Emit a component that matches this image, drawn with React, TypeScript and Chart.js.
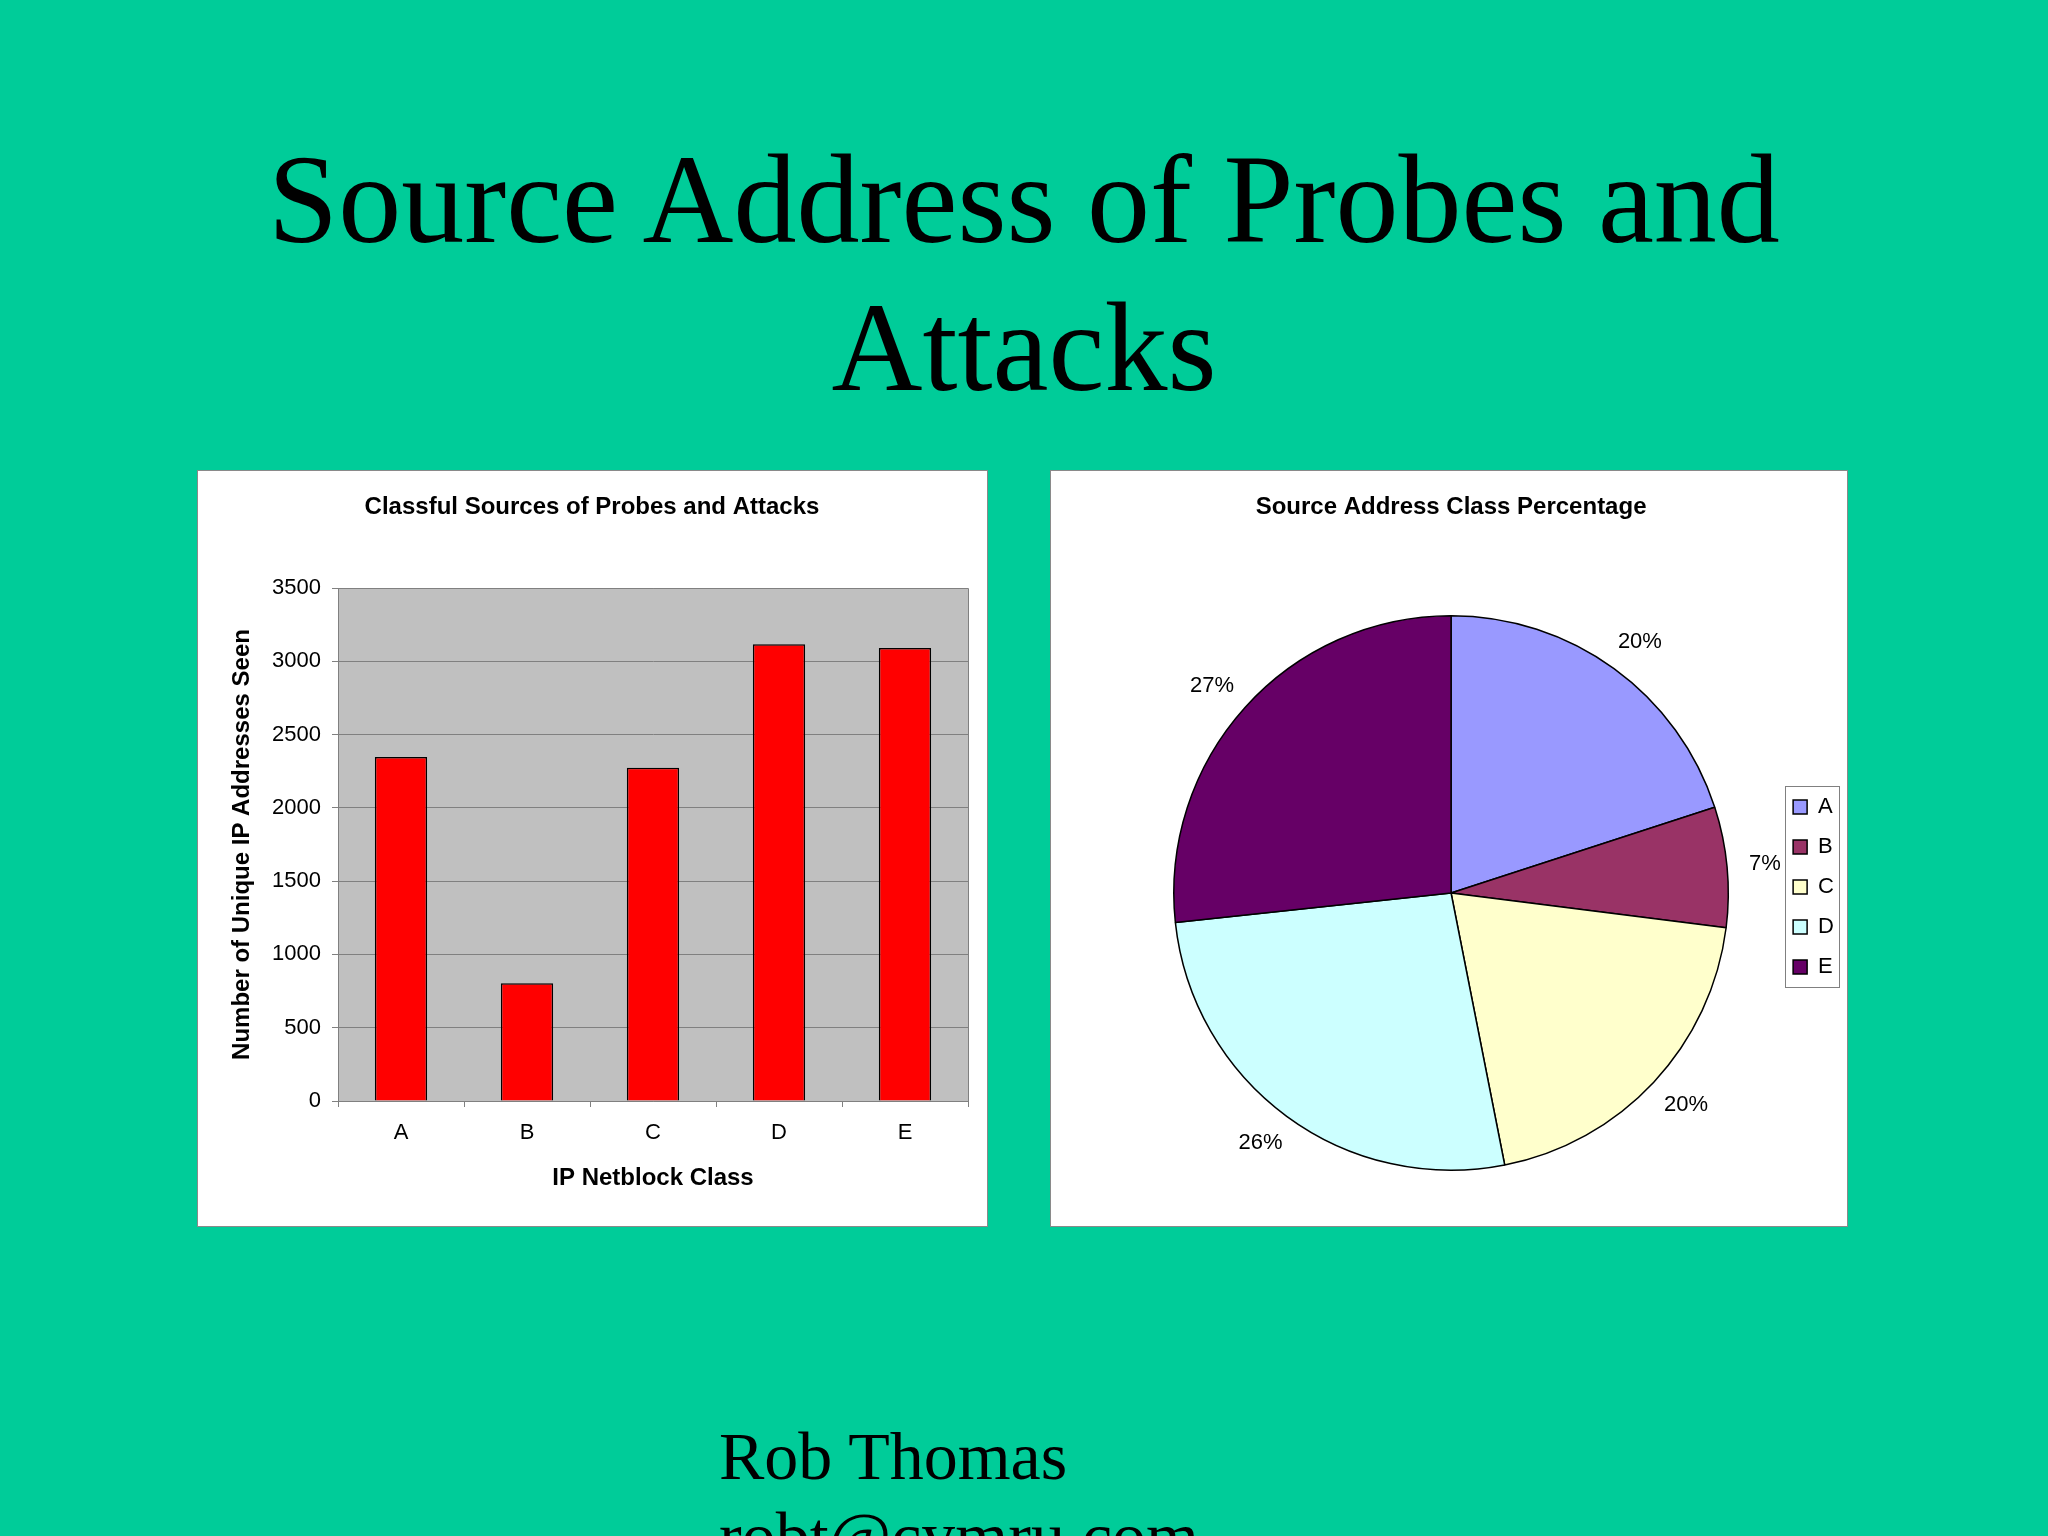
import React, { useEffect, useRef } from "react";
import { Chart, registerables } from "chart.js";

Chart.register(...registerables);

// ---------- data ----------
const slideTitleLines = ["Source Address of Probes and", "Attacks"];
const authorLines = ["Rob Thomas", "robt@cymru.com"];

const barTitle = "Classful Sources of Probes and Attacks";
const barXTitle = "IP Netblock Class";
const barYTitle = "Number of Unique IP Addresses Seen";
const barCategories = ["A", "B", "C", "D", "E"];
const barValues = [2347, 803, 2273, 3117, 3090];
const barAxisMin = 0;
const barAxisMax = 3500;
const barAxisStep = 500;

const pieTitle = "Source Address Class Percentage";
const pieLabels = ["A", "B", "C", "D", "E"];
const pieValues = [20.0, 7.0, 19.9, 26.4, 26.7];
const pieColors = ["#9999FF", "#993366", "#FFFFCC", "#CCFFFF", "#660066"];

// ---------- styles ----------
const SANS = '"Liberation Sans", Arial, sans-serif';
const SERIF = '"Liberation Serif", "Times New Roman", serif';
const PAGE_BG = "#00CC99";
const PIE_LABEL_SIZE = 22;

const plotBackground = {
  id: "plotBackground",
  beforeDraw(chart: any) {
    const { ctx, chartArea } = chart;
    ctx.save();
    ctx.fillStyle = "#C0C0C0";
    ctx.fillRect(chartArea.left, chartArea.top, chartArea.right - chartArea.left, chartArea.bottom - chartArea.top);
    ctx.restore();
  },
  afterDraw(chart: any) {
    const { ctx, chartArea } = chart;
    ctx.save();
    ctx.strokeStyle = "#808080";
    ctx.lineWidth = 1;
    ctx.beginPath();
    ctx.moveTo(Math.round(chartArea.left) + 0.5, Math.round(chartArea.top) + 0.5);
    ctx.lineTo(Math.round(chartArea.right) + 0.5, Math.round(chartArea.top) + 0.5);
    ctx.lineTo(Math.round(chartArea.right) + 0.5, Math.round(chartArea.bottom) + 0.5);
    ctx.stroke();
    ctx.restore();
  },
};

const pieOutsideLabels = {
  id: "pieOutsideLabels",
  afterDatasetsDraw(chart: any) {
    const { ctx } = chart;
    const meta = chart.getDatasetMeta(0);
    const values: number[] = chart.data.datasets[0].data;
    const total = values.reduce((a, b) => a + b, 0);
    ctx.save();
    ctx.font = `${PIE_LABEL_SIZE}px ${SANS}`;
    ctx.fillStyle = "#000";
    ctx.textAlign = "center";
    ctx.textBaseline = "middle";
    meta.data.forEach((arc: any, i: number) => {
      const p = arc.getProps(["x", "y", "startAngle", "endAngle", "outerRadius"], true);
      const mid = (p.startAngle + p.endAngle) / 2;
      const text = Math.round((values[i] / total) * 100) + "%";
      const w = ctx.measureText(text).width;
      const h = PIE_LABEL_SIZE;
      const dx = Math.cos(mid);
      const dy = Math.sin(mid);
      const d = p.outerRadius + 22;
      const tx = p.x + dx * d + (dx * w) / 2;
      const ty = p.y + dy * d + (dy * h) / 2;
      ctx.fillText(text, tx, ty);
    });
    ctx.restore();
  },
};

const legendFrame = {
  id: "legendFrame",
  afterDraw(chart: any) {
    const legend = chart.legend;
    if (!legend || !legend.legendHitBoxes || !legend.legendHitBoxes.length) return;
    const hb = legend.legendHitBoxes;
    const left = Math.min(...hb.map((h: any) => h.left)) - 8;
    const right = Math.max(...hb.map((h: any) => h.left + h.width)) + 5;
    const top = hb[0].top - 10;
    const last = hb[hb.length - 1];
    const bottom = last.top + last.height + 9;
    const { ctx } = chart;
    ctx.save();
    ctx.strokeStyle = "#808080";
    ctx.lineWidth = 1;
    ctx.strokeRect(Math.round(left) + 0.5, Math.round(top) + 0.5, Math.round(right - left), Math.round(bottom - top));
    ctx.restore();
  },
};

function BarChart() {
  const ref = useRef<HTMLCanvasElement>(null);
  useEffect(() => {
    if (!ref.current) return;
    const chart = new Chart(ref.current, {
      type: "bar",
      data: {
        labels: barCategories,
        datasets: [
          {
            data: barValues,
            backgroundColor: "#FF0000",
            borderColor: "#000000",
            borderWidth: 1.5,
            barPercentage: 0.415,
            categoryPercentage: 1,
          },
        ],
      },
      options: {
        responsive: false,
        animation: false,
        devicePixelRatio: 1,
        layout: { padding: { left: 18, right: 19, top: 0, bottom: 0 } },
        plugins: {
          legend: { display: false },
          tooltip: { enabled: false },
          title: {
            display: true,
            text: barTitle,
            color: "#000",
            font: { family: SANS, size: 24, weight: "bold" },
            padding: { top: 22.2, bottom: 66 },
          },
        },
        scales: {
          x: {
            grid: { drawOnChartArea: false, drawTicks: true, tickLength: 6, color: "#808080", offset: true },
            border: { color: "#808080", width: 1 },
            ticks: { color: "#000", font: { family: SANS, size: 22 }, padding: 13, maxRotation: 0 },
            title: {
              display: true,
              text: barXTitle,
              color: "#000",
              font: { family: SANS, size: 24, weight: "bold" },
              padding: { top: 0, bottom: 33.6 },
            },
            afterFit: (s: any) => {
              s.height = 125;
            },
          },
          y: {
            min: barAxisMin,
            max: barAxisMax,
            ticks: {
              stepSize: barAxisStep,
              color: "#000",
              font: { family: SANS, size: 22 },
              padding: 11,
              callback: (v: any) => String(v),
            },
            grid: { color: "#808080", tickLength: 6, drawTicks: true },
            border: { color: "#808080", width: 1 },
            title: {
              display: true,
              text: barYTitle,
              color: "#000",
              font: { family: SANS, size: 24, weight: "bold" },
              padding: { top: 11.6, bottom: 0 },
            },
            afterFit: (s: any) => {
              s.width = 122;
            },
          },
        },
      } as any,
      plugins: [plotBackground],
    });
    return () => chart.destroy();
  }, []);
  return <canvas ref={ref} width={789} height={755} style={{ display: "block" }} />;
}

function PieChart() {
  const ref = useRef<HTMLCanvasElement>(null);
  useEffect(() => {
    if (!ref.current) return;
    const chart = new Chart(ref.current, {
      type: "pie",
      data: {
        labels: pieLabels,
        datasets: [
          {
            data: pieValues,
            backgroundColor: pieColors,
            borderColor: "#000000",
            borderWidth: 1.5,
            hoverOffset: 0,
          },
        ],
      },
      options: {
        responsive: false,
        animation: false,
        devicePixelRatio: 1,
        layout: { padding: { left: 76, right: 3, top: 0, bottom: 55 } },
        plugins: {
          tooltip: { enabled: false },
          title: {
            display: true,
            text: pieTitle,
            fullSize: false,
            color: "#000",
            font: { family: SANS, size: 24, weight: "bold" },
            padding: { top: 22.2, bottom: 93 },
          },
          legend: {
            display: true,
            position: "right",
            fullSize: false,
            align: "center",
            title: { display: true, text: "", font: { family: SANS, size: 10 }, padding: { top: -24, bottom: 0 } },
            labels: {
              boxWidth: 14,
              boxHeight: 14,
              padding: 18,
              color: "#000",
              font: { family: SANS, size: 22 },
            },
          },
        },
      } as any,
      plugins: [pieOutsideLabels, legendFrame],
    });
    return () => chart.destroy();
  }, []);
  return <canvas ref={ref} width={796} height={755} style={{ display: "block" }} />;
}

export default function App() {
  const box: React.CSSProperties = {
    position: "absolute",
    top: 471,
    height: 755,
    background: "#FFFFFF",
    outline: "1px solid #8a8a8a",
  };
  return (
    <div
      style={{
        position: "fixed",
        left: 0,
        top: 0,
        width: 2048,
        height: 1536,
        background: PAGE_BG,
        overflow: "hidden",
      }}
    >
      <div
        style={{
          position: "absolute",
          left: 0,
          top: 126,
          width: 2048,
          textAlign: "center",
          fontFamily: SERIF,
          fontSize: 126,
          lineHeight: "148px",
          color: "#000",
          whiteSpace: "nowrap",
        }}
      >
        {slideTitleLines.map((l) => (
          <div key={l}>{l}</div>
        ))}
      </div>
      <div style={{ ...box, left: 198, width: 789 }}>
        <BarChart />
      </div>
      <div style={{ ...box, left: 1051, width: 796 }}>
        <PieChart />
      </div>
      <div
        style={{
          position: "absolute",
          left: 719,
          top: 1416,
          fontFamily: SERIF,
          fontSize: 68,
          lineHeight: "80px",
          color: "#000",
          whiteSpace: "nowrap",
        }}
      >
        {authorLines.map((l) => (
          <div key={l}>{l}</div>
        ))}
      </div>
    </div>
  );
}
